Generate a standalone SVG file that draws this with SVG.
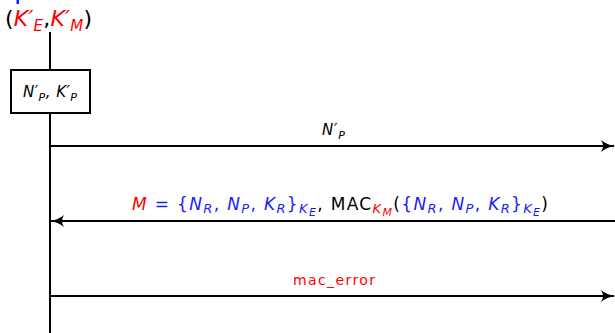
<svg xmlns="http://www.w3.org/2000/svg" width="615" height="333" viewBox="0 0 615 333">
<style>
.t{font-family:"DejaVu Sans","Liberation Sans",sans-serif;}
.i{font-style:italic;}
.r{fill:#ff0000;}
.b{fill:#1a1aff;}
.k{fill:#000;}
.ln{stroke:#000;stroke-width:2;fill:none;}
</style>
<defs>
<marker id="ah" viewBox="0 0 14 12" refX="13" refY="6" markerWidth="14" markerHeight="12" markerUnits="userSpaceOnUse" orient="auto">
<path d="M0,0 Q6,5 14,6 Q6,7 0,12 Q4,6 0,0 Z" fill="#000"/>
</marker>
</defs>
<rect x="16.5" y="0" width="2.5" height="4" fill="#1a1aff"/>
<g id="header">
<text class="t" x="5" y="26" font-size="22" textLength="87" lengthAdjust="spacing"><tspan class="k">(</tspan><tspan class="r i">K′</tspan><tspan class="r i" font-size="15" dy="5">E</tspan><tspan class="k" dy="-5">,</tspan><tspan class="r i">K′</tspan><tspan class="r i" font-size="15" dy="5">M</tspan><tspan class="k" dy="-5">)</tspan></text>
</g>
<g id="lifeline">
<line class="ln" x1="50" y1="32" x2="50" y2="70"/>
<line class="ln" x1="50" y1="113" x2="50" y2="333"/>
</g>
<g id="box">
<rect x="11" y="70" width="79" height="43" fill="#fff" stroke="#000" stroke-width="2"/>
<text class="t i" x="23" y="97" font-size="15" textLength="54" lengthAdjust="spacing"><tspan>N′</tspan><tspan font-size="11" dy="4">P</tspan><tspan dy="-4">, K′</tspan><tspan font-size="11" dy="4">P</tspan></text>
</g>
<g id="connectors">
<line class="ln" x1="50" y1="146" x2="614" y2="146" marker-end="url(#ah)"/>
<line class="ln" x1="615" y1="221" x2="51" y2="221" marker-end="url(#ah)"/>
<line class="ln" x1="50" y1="296" x2="614" y2="296" marker-end="url(#ah)"/>
</g>
<g id="label1">
<text class="t i" x="322" y="135" font-size="15" textLength="23" lengthAdjust="spacing"><tspan>N′</tspan><tspan font-size="11" dy="4">P</tspan></text>
</g>
<g id="label2">
<text class="t" x="132" y="210" font-size="17" textLength="416" lengthAdjust="spacing"><tspan class="r i">M</tspan><tspan class="b"> = {</tspan><tspan class="b i">N</tspan><tspan class="b i" font-size="13" dy="3">R</tspan><tspan class="b" dy="-3">, </tspan><tspan class="b i">N</tspan><tspan class="b i" font-size="13" dy="3">P</tspan><tspan class="b" dy="-3">, </tspan><tspan class="b i">K</tspan><tspan class="b i" font-size="13" dy="3">R</tspan><tspan class="b" dy="-3">}</tspan><tspan class="b i" font-size="13" dy="3">K</tspan><tspan class="b i" font-size="11" dy="3">E</tspan><tspan class="k" dy="-6">,  MAC</tspan><tspan class="r i" font-size="13" dy="3">K</tspan><tspan class="r i" font-size="11" dy="3">M</tspan><tspan class="k" dy="-6">(</tspan><tspan class="b">{</tspan><tspan class="b i">N</tspan><tspan class="b i" font-size="13" dy="3">R</tspan><tspan class="b" dy="-3">, </tspan><tspan class="b i">N</tspan><tspan class="b i" font-size="13" dy="3">P</tspan><tspan class="b" dy="-3">, </tspan><tspan class="b i">K</tspan><tspan class="b i" font-size="13" dy="3">R</tspan><tspan class="b" dy="-3">}</tspan><tspan class="b i" font-size="13" dy="3">K</tspan><tspan class="b i" font-size="11" dy="3">E</tspan><tspan class="k" dy="-6">)</tspan></text>
</g>
<g id="label3">
<text class="t r" x="293" y="285" font-size="14" textLength="82" lengthAdjust="spacing">mac_error</text>
</g>
</svg>
